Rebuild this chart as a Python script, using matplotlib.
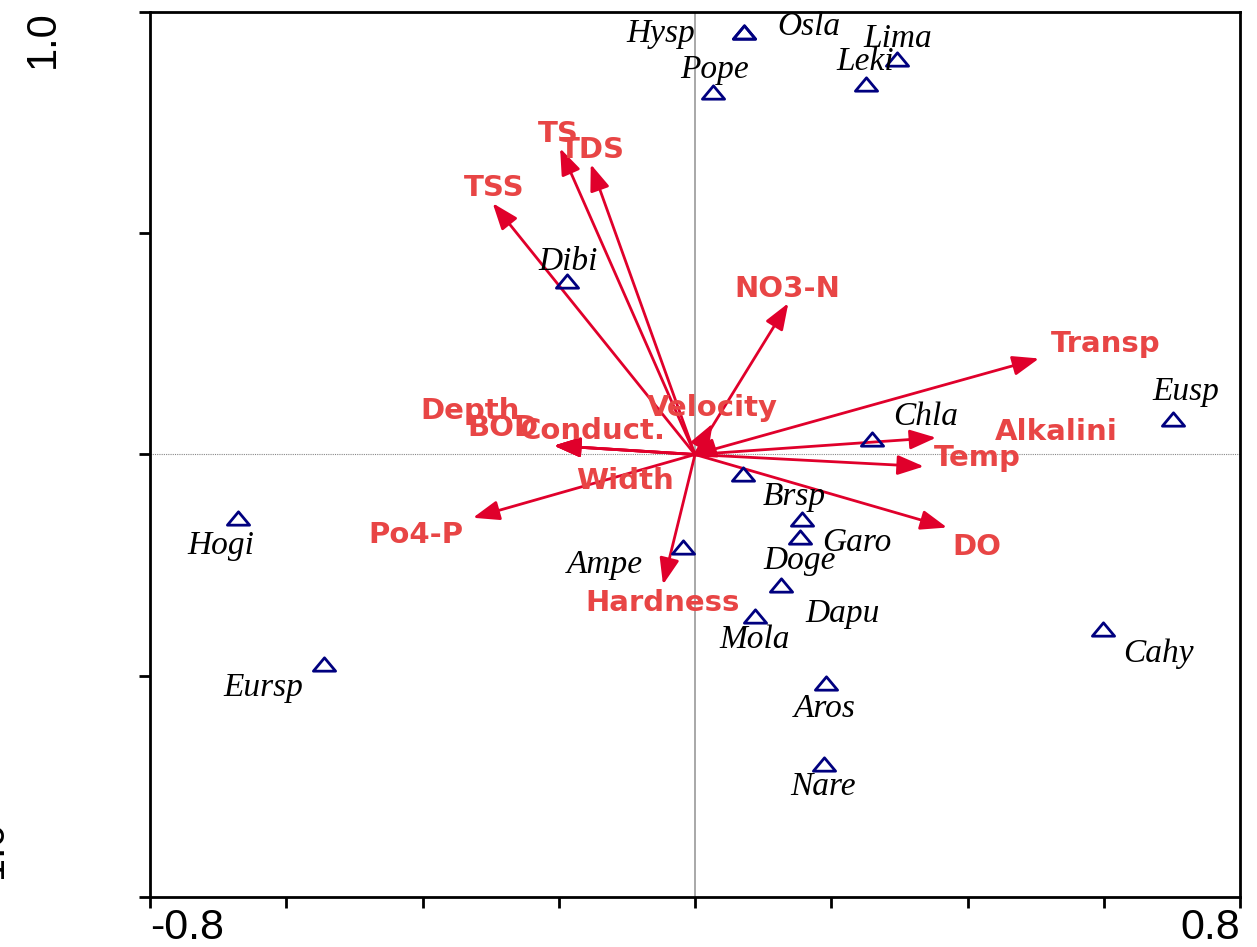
import matplotlib.pyplot as plt
from matplotlib.path import Path

# environmental variables (arrow tips, biplot scores)
env_names = ['TS', 'TDS', 'TSS', 'NO3-N', 'Transp', 'Alkalini', 'Temp', 'DO',
             'Hardness', 'Po4-P', 'Width', 'Conduct.', 'BOD', 'Depth', 'Velocity']
env_x = [-0.198, -0.153, -0.297, 0.137, 0.505, 0.354, 0.336, 0.370,
         -0.047, -0.326, -0.008, -0.207, -0.207, -0.207, 0.026]
env_y = [0.692, 0.656, 0.568, 0.342, 0.217, 0.038, -0.027, -0.165,
         -0.294, -0.143, -0.004, 0.020, 0.020, 0.020, 0.070]

# species scores
sp_names = ['Hysp', 'Osla', 'Lima', 'Leki', 'Pope', 'Dibi', 'Eusp', 'Chla', 'Brsp',
            'Garo', 'Doge', 'Dapu', 'Mola', 'Ampe', 'Hogi', 'Eursp', 'Cahy', 'Aros', 'Nare']
sp_x = [0.072, 0.072, 0.297, 0.251, 0.026, -0.188, 0.702, 0.260, 0.070,
        0.157, 0.154, 0.126, 0.088, -0.018, -0.671, -0.545, 0.599, 0.192, 0.189]
sp_y = [0.955, 0.955, 0.894, 0.837, 0.819, 0.391, 0.081, 0.034, -0.045,
        -0.145, -0.186, -0.294, -0.364, -0.208, -0.143, -0.473, -0.394, -0.516, -0.699]

# label placement (layout only, baseline centres)
env_lab_x = [-0.201, -0.151, -0.295, 0.135, 0.603, 0.530, 0.414, 0.414,
             -0.047, -0.410, -0.103, -0.150, -0.282, -0.330, 0.026]
env_lab_y = [0.706, 0.670, 0.584, 0.357, 0.231, 0.032, -0.027, -0.226,
             -0.353, -0.201, -0.077, 0.036, 0.041, 0.081, 0.088]
sp_lab_x = [-0.051, 0.167, 0.297, 0.250, 0.028, -0.186, 0.721, 0.338, 0.145,
            0.238, 0.154, 0.217, 0.088, -0.132, -0.696, -0.633, 0.680, 0.191, 0.188]
sp_lab_y = [0.932, 0.948, 0.921, 0.869, 0.851, 0.416, 0.124, 0.066, -0.113,
            -0.219, -0.258, -0.378, -0.437, -0.267, -0.224, -0.545, -0.468, -0.593, -0.769]

W, H = 1257, 947
fig = plt.figure(figsize=(W / 100, H / 100), dpi=100)
ax = fig.add_axes([150 / W, 1 - 897 / H, (1240 - 150) / W, (897 - 12) / H])
ax.set_xlim(-0.8, 0.8)
ax.set_ylim(-1.0, 1.0)

ax.axvline(0, color='#999999', lw=1.2, zorder=1)
ax.axhline(0, color='#888888', lw=0.8, ls=(0, (1, 1)), zorder=1)

arrow_col = '#E0002B'
label_col = '#E84545'
for name, x, y, lx, ly in zip(env_names, env_x, env_y, env_lab_x, env_lab_y):
    ax.annotate('', xy=(x, y), xytext=(0, 0),
                arrowprops=dict(arrowstyle='-|>,head_length=0.8,head_width=0.3',
                                mutation_scale=20, lw=2, color=arrow_col,
                                shrinkA=0, shrinkB=0), zorder=3)
    ax.text(lx, ly, name, color=label_col, fontsize=21, fontweight='bold',
            family='DejaVu Sans', ha='center', va='baseline', zorder=5)

tri = Path([(-1, -0.6), (1, -0.6), (0, 0.6), (-1, -0.6)],
           [Path.MOVETO, Path.LINETO, Path.LINETO, Path.CLOSEPOLY])
ax.plot(sp_x, sp_y, ls='none', marker=tri, ms=16, mfc='none', mec='#00007F',
        mew=2, zorder=4)
for name, lx, ly in zip(sp_names, sp_lab_x, sp_lab_y):
    ax.text(lx, ly, name, fontsize=24, style='italic', family='Liberation Serif',
            ha='center', va='baseline', color='black', zorder=5)

for s in ax.spines.values():
    s.set_linewidth(2)
ax.set_xticks([-0.8, -0.6, -0.4, -0.2, 0, 0.2, 0.4, 0.6, 0.8])
ax.set_xticklabels(['-0.8', '', '', '', '', '', '', '', '0.8'],
                   fontsize=31, family='Liberation Sans')
xl = ax.get_xticklabels()
xl[0].set_ha('left')
xl[-1].set_ha('right')
ax.set_yticks([-1.0, -0.5, 0, 0.5, 1.0])
ax.set_yticklabels([])
ax.tick_params(direction='out', length=8, width=2, pad=0)

fig.text(43 / W, 1 - 10 / H, '1.0', rotation=90, fontsize=30,
         family='Liberation Sans', ha='center', va='top')
fig.text(12 / W, 1 - 857 / H, '-1.0', rotation=90, fontsize=30,
         family='Liberation Sans', ha='right', va='center')

fig.savefig('out.png', dpi=100)
